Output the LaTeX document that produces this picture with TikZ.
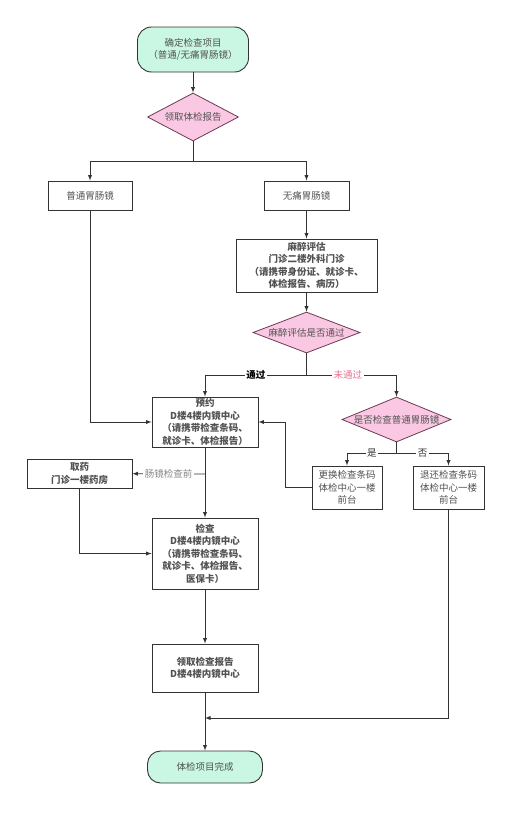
\documentclass[tikz,border=0pt]{standalone}
\usepackage{fontspec}
\setmainfont{Noto Sans CJK SC}
\usetikzlibrary{arrows}
\usetikzlibrary{calc}
\usetikzlibrary{shapes}
\usetikzlibrary{positioning}
\definecolor{mint}{HTML}{C9F7E3}
\definecolor{rose}{HTML}{FAC8E3}
\definecolor{roseline}{HTML}{6B3A55}
\definecolor{ink}{HTML}{333333}
\definecolor{fail}{HTML}{E8708E}

\begin{document}
\begin{tikzpicture}[x=1pt,y=-1pt,>=latex,
  every node/.style={font=\fontsize{9.5}{12.5}\selectfont,text=ink!85},
  line/.style={draw=ink,line width=0.9pt},
  term/.style={draw=ink,line width=0.9pt,fill=mint,rounded corners=14pt,align=center,inner sep=0pt},
  box/.style={draw=ink,line width=0.9pt,fill=white,align=center,inner sep=0pt},
  decision/.style={diamond,draw=roseline,line width=0.8pt,fill=rose,inner sep=0pt},
  tag/.style={fill=white,inner sep=1.5pt}]
\fill[white] (0,0) rectangle (520,819);
\useasboundingbox (0,0) rectangle (520,819);

% nodes
\node[term,minimum width=111pt,minimum height=45pt] (start) at (193,49.5) {确定检查项目\\（普通/无痛胃肠镜）};
\node[decision,aspect=1.9,minimum width=91pt,minimum height=48pt] (report1) at (193,117) {领取体检报告};
\node[box,minimum width=84pt,minimum height=29pt] (ordinary) at (90,195.5) {普通胃肠镜};
\node[box,minimum width=85pt,minimum height=29pt] (painless) at (306.5,195.5) {无痛胃肠镜};
\node[box,minimum width=141pt,minimum height=53pt,font=\fontsize{9.5}{12.5}\selectfont\bfseries] (anes) at (306.5,265.5)
  {麻醉评估\\门诊二楼外科门诊\\（请携带身份证、就诊卡、\\体检报告、病历）};
\node[decision,aspect=2.6,minimum width=107pt,minimum height=41pt] (anesq) at (306.5,332.5) {麻醉评估是否通过};
\node[box,minimum width=106pt,minimum height=50pt,font=\fontsize{9.5}{12.5}\selectfont\bfseries] (appt) at (205,422)
  {预约\\D楼4楼内镜中心\\（请携带检查条码、\\就诊卡、体检报告）};
\node[box,minimum width=105pt,minimum height=29pt,font=\fontsize{9.5}{12.5}\selectfont\bfseries] (medic) at (79.5,473.5)
  {取药\\门诊一楼药房};
\node[box,minimum width=106pt,minimum height=71pt,font=\fontsize{9.5}{12.5}\selectfont\bfseries] (exam) at (205,553.5)
  {检查\\D楼4楼内镜中心\\（请携带检查条码、\\就诊卡、体检报告、\\医保卡）};
\node[decision,aspect=2.4,minimum width=109pt,minimum height=45pt] (ordq) at (396.5,419.5) {是否检查普通胃肠镜};
\node[box,minimum width=70pt,minimum height=43pt] (swap) at (347,487.5) {更换检查条码\\体检中心一楼\\前台};
\node[box,minimum width=71pt,minimum height=43pt] (refund) at (448.5,487.5) {退还检查条码\\体检中心一楼\\前台};
\node[box,minimum width=106pt,minimum height=48pt,font=\fontsize{9.5}{12.5}\selectfont\bfseries] (result) at (205,668)
  {领取检查报告\\D楼4楼内镜中心};
\node[term,rounded corners=13pt,minimum width=115pt,minimum height=32pt] (finish) at (205,767) {体检项目完成};

% turning points
\coordinate (split1) at (193,161);
\coordinate (split2) at (306.5,375);
\coordinate (split3) at (396.5,453);
\coordinate (tap) at (205,474);
\coordinate (swapturn) at (285,487.5);
\coordinate (merge) at (205,718);

% lines
\draw[line,->] (start) -- (report1);
\draw[line] (report1) -- (split1);
\draw[line,->] (split1) -| (ordinary);
\draw[line,->] (split1) -| (painless);
\draw[line,->] (painless) -- (anes);
\draw[line,->] (anes) -- (anesq);
\draw[line] (anesq) -- (split2);
\draw[line,->] (split2) -| node[tag,pos=0.25,font=\fontsize{9.5}{12.5}\selectfont\bfseries,text=black] {通过} (appt);
\draw[line,->] (split2) -| node[tag,pos=0.23,text=fail] {未通过} (ordq);
\draw[line,->] (ordinary) |- (appt);
\draw[line,->] (appt) -- (exam);
\draw[line,->] (tap) -- node[tag,pos=0.5,text=ink!60] {肠镜检查前} (medic);
\draw[line,->] (medic) |- (exam);
\draw[line] (ordq) -- (split3);
\draw[line,->] (split3) -| node[tag,pos=0.25,text=ink] {是} (swap);
\draw[line,->] (split3) -| node[tag,pos=0.25,text=ink] {否} (refund);
\draw[line,->] (swap) -- (swapturn) |- (appt);
\draw[line,->] (exam) -- (result);
\draw[line,->] (result) -- (finish);
\draw[line,->] (refund) |- (merge);
\end{tikzpicture}
\end{document}
